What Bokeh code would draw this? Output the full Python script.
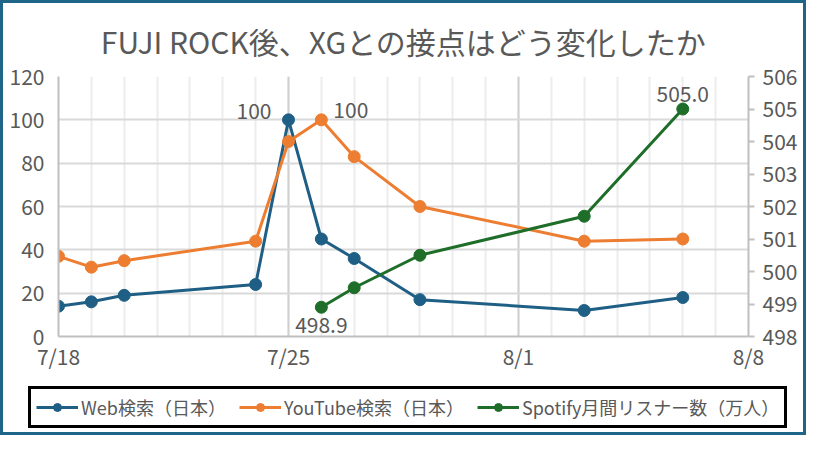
import pandas as pd
from bokeh.plotting import figure
from bokeh.layouts import column
from bokeh.models import (ColumnDataSource, Range1d, LinearAxis, FixedTicker,
                          CustomJSTickFormatter, Legend, LegendItem, Label)
from bokeh.embed import file_html
from bokeh.resources import INLINE

YEAR = "2025"
title_text = "FUJI ROCK後、XGとの接点はどう変化したか"

web_dates = ["7/18", "7/19", "7/20", "7/24", "7/25", "7/26", "7/27", "7/29", "8/3", "8/6"]
web_vals = [14, 16, 19, 24, 100, 45, 36, 17, 12, 18]
yt_vals = [37, 32, 35, 44, 90, 100, 83, 60, 44, 45]
sp_dates = ["7/26", "7/27", "7/29", "8/3", "8/6"]
sp_vals = [498.9, 499.5, 500.5, 501.7, 505.0]

x_tick_labels = ["7/18", "7/25", "8/1", "8/8"]
left_ticks = [0, 20, 40, 60, 80, 100, 120]
right_ticks = [498, 499, 500, 501, 502, 503, 504, 505, 506]

names = ["Web検索（日本）", "YouTube検索（日本）", "Spotify月間リスナー数（万人）"]
colors = ["#1f5f85", "#ed7d31", "#1e6e2a"]

def to_dt(s):
    m, d = s.split("/")
    return pd.Timestamp(f"{YEAR}-{int(m):02d}-{int(d):02d}")

def ms(t):
    return t.value / 1e6

wx = [to_dt(d) for d in web_dates]
sx = [to_dt(d) for d in sp_dates]
tick_ms = [ms(to_dt(d)) for d in x_tick_labels]
minor_ms = [ms(t) for t in pd.date_range(to_dt(x_tick_labels[0]), to_dt(x_tick_labels[-1]), freq="D")]

FONT = "Noto Sans CJK JP"
TXT = "#595959"

p = figure(width=800, height=370, x_axis_type="datetime",
           x_range=Range1d(to_dt(x_tick_labels[0]), to_dt(x_tick_labels[-1])),
           y_range=Range1d(left_ticks[0], left_ticks[-1]),
           output_backend="svg", toolbar_location=None,
           min_border_left=55, min_border_right=55, min_border_top=71, min_border_bottom=0)
p.extra_y_ranges = {"sp": Range1d(right_ticks[0], right_ticks[-1])}

p.title.text = title_text
p.title.align = "center"
p.title.text_font = FONT
p.title.text_font_size = "30px"
p.title.text_font_style = "normal"
p.title.text_color = TXT
p.title.standoff = 27

p.outline_line_color = None

# x axis
p.xaxis.ticker = FixedTicker(ticks=tick_ms, minor_ticks=minor_ms)
p.xaxis.formatter = CustomJSTickFormatter(code="""
const d = new Date(tick);
return (d.getUTCMonth() + 1) + "/" + d.getUTCDate();
""")
p.xaxis.major_tick_line_color = None
p.xaxis.minor_tick_line_color = None
p.xaxis.axis_line_color = "#bfbfbf"
p.xaxis.axis_line_width = 2
p.xaxis.major_label_text_font = FONT
p.xaxis.major_label_text_font_size = "21px"
p.xaxis.major_label_text_color = TXT
p.xaxis.major_label_standoff = -2

# left axis
p.yaxis.ticker = FixedTicker(ticks=left_ticks)
p.yaxis.major_tick_line_color = None
p.yaxis.minor_tick_line_color = None
p.yaxis.axis_line_color = "#bfbfbf"
p.yaxis.axis_line_width = 2
p.yaxis.major_label_text_font = FONT
p.yaxis.major_label_text_font_size = "21px"
p.yaxis.major_label_text_color = TXT
p.yaxis.major_label_standoff = 8

# right axis
ra = LinearAxis(y_range_name="sp", ticker=FixedTicker(ticks=right_ticks))
ra.axis_line_color = "#bfbfbf"
ra.axis_line_width = 2
ra.major_tick_line_color = "#bfbfbf"
ra.major_tick_line_width = 2
ra.major_tick_out = 6
ra.major_tick_in = 0
ra.minor_tick_line_color = None
ra.major_label_text_font = FONT
ra.major_label_text_font_size = "21px"
ra.major_label_text_color = TXT
ra.major_label_standoff = 8
p.add_layout(ra, "right")

# grids
p.xgrid.grid_line_color = "#d0d0d0"
p.xgrid.grid_line_width = 2
p.xgrid.minor_grid_line_color = "#ececec"
p.xgrid.minor_grid_line_width = 2
p.ygrid.grid_line_color = "#d9d9d9"
p.ygrid.grid_line_width = 2

web_src = ColumnDataSource(dict(x=wx, y=web_vals))
yt_src = ColumnDataSource(dict(x=wx, y=yt_vals))
sp_src = ColumnDataSource(dict(x=sx, y=sp_vals))

series = [(web_src, colors[0], "default"), (yt_src, colors[1], "default"), (sp_src, colors[2], "sp")]
for src, c, rng in series:
    p.line("x", "y", source=src, line_color=c, line_width=3, y_range_name=rng)
    p.scatter("x", "y", source=src, fill_color=c, line_color=c, size=12, y_range_name=rng)

# data labels
lab_kw = dict(text_font=FONT, text_font_size="21px", text_color=TXT, text_baseline="middle")
i_web = web_vals.index(max(web_vals))
i_yt = yt_vals.index(max(yt_vals))
p.add_layout(Label(x=wx[i_web], y=web_vals[i_web], text=f"{web_vals[i_web]}",
                   text_align="right", x_offset=-17, y_offset=9, **lab_kw))
p.add_layout(Label(x=wx[i_yt], y=yt_vals[i_yt], text=f"{yt_vals[i_yt]}",
                   text_align="left", x_offset=12, y_offset=10, **lab_kw))
p.add_layout(Label(x=sx[0], y=sp_vals[0], text=f"{sp_vals[0]:.1f}", y_range_name="sp",
                   text_align="center", x_offset=0, y_offset=-18, **lab_kw))
p.add_layout(Label(x=sx[-1], y=sp_vals[-1], text=f"{sp_vals[-1]:.1f}", y_range_name="sp",
                   text_align="center", x_offset=0, y_offset=15, **lab_kw))

# legend strip (separate figure below the chart; same sources, data lies outside its ranges)
q = figure(width=800, height=59, x_range=Range1d(0, 1), y_range=Range1d(0, 1),
           output_backend="svg", toolbar_location=None,
           x_axis_location=None, y_axis_location=None,
           min_border=0, min_border_left=0, min_border_right=0, min_border_top=0, min_border_bottom=0)
q.xgrid.visible = False
q.ygrid.visible = False
q.outline_line_color = None
if "frame_align" in q.properties():
    q.frame_align = False
    p.frame_align = False

items = []
for (src, c, rng), n in zip(series, names):
    l = q.line("x", "y", source=src, line_color=c, line_width=3)
    s = q.scatter("x", "y", source=src, fill_color=c, line_color=c, size=12)
    items.append(LegendItem(label=n, renderers=[l, s]))

legend = Legend(items=items, orientation="horizontal", location=(25, 4))
legend.label_text_font = FONT
legend.label_text_font_size = "18px"
legend.label_text_color = TXT
legend.glyph_width = 42
legend.glyph_height = 20
legend.label_standoff = 3
legend.spacing = 13
legend.padding = 5
legend.margin = 0
legend.border_line_color = "black"
legend.border_line_width = 3
legend.border_line_alpha = 1
legend.background_fill_alpha = 1
q.add_layout(legend)

layout = column(p, q, spacing=0, styles={"border": "3px solid #1f6587", "background-color": "white"})

open("out.html", "w").write(file_html(layout, INLINE))
